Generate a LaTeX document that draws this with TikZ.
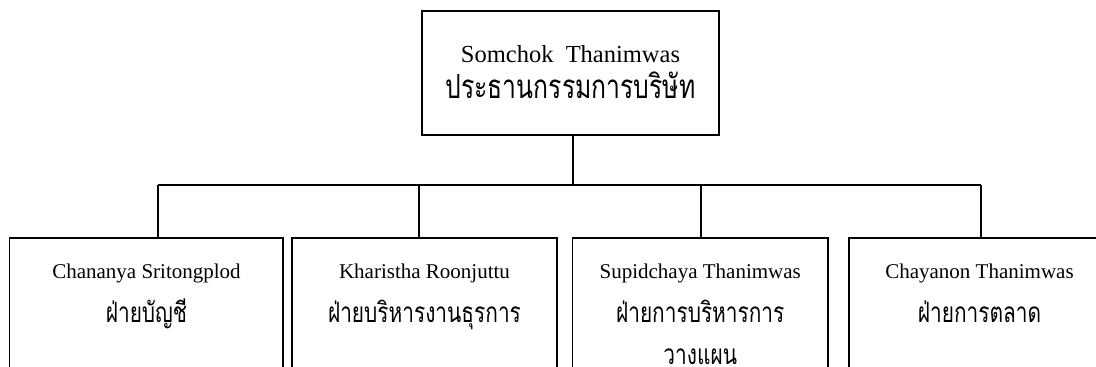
\documentclass[tikz,border=0pt]{standalone}
\usepackage{fontspec}
\setmainfont{Liberation Serif}
\newfontfamily\thaifont[Script=Thai]{Loma}
\newcommand\tallthai[1]{\scalebox{0.97}[1.3]{#1}}
\tikzset{
  box/.style={draw, line width=1.4pt, rectangle, inner sep=0pt},
  link/.style={line width=1.4pt},
  entop/.style={inner sep=0pt, anchor=base, font=\fontsize{24.5}{28}\selectfont},
  thtop/.style={inner sep=0pt, anchor=base, font=\thaifont\fontsize{25.5}{28}\selectfont},
  en/.style={inner sep=0pt, anchor=base, font=\fontsize{21}{24}\selectfont},
  th/.style={inner sep=0pt, anchor=base, font=\thaifont\fontsize{21.5}{24}\selectfont},
}
\begin{document}
\begin{tikzpicture}[x=1pt,y=-1pt]
\useasboundingbox (0,0) rectangle (1096,367);
\clip (0,0) rectangle (1096,367);
% boxes
\node[box, minimum width=297pt, minimum height=124pt] (top) at (570.5,73) {};
\node[box, minimum width=273.5pt, minimum height=200pt] (b1) at (146.25,338) {};
\node[box, minimum width=265pt, minimum height=200pt] (b2) at (424.5,338) {};
\node[box, minimum width=255.5pt, minimum height=200pt] (b3) at (700.25,338) {};
\node[box, minimum width=261pt, minimum height=200pt] (b4) at (979.5,338) {};
% texts
\node[entop] (t1) at (570.5,62) {Somchok\ \ Thanimwas};
\node[thtop] (t2) at (570.5,98) {\tallthai{ประธานกรรมการบริษัท}};
\node[en] (c1) at (146.5,278) {Chananya Sritongplod};
\node[th] (d1) at (146.5,322) {\tallthai{ฝ่ายบัญชี}};
\node[en] (c2) at (424.5,278) {Kharistha Roonjuttu};
\node[th] (d2) at (424.5,322) {\tallthai{ฝ่ายบริหารงานธุรการ}};
\node[en] (c3) at (700.25,278) {Supidchaya Thanimwas};
\node[th] (d3) at (700.25,322) {\tallthai{ฝ่ายการบริหารการ}};
\node[th] (e3) at (700.25,364) {\tallthai{วางแผน}};
\node[en] (c4) at (979.5,278) {Chayanon Thanimwas};
\node[th] (d4) at (979.5,322) {\tallthai{ฝ่ายการตลาด}};
% connectors
\coordinate (hub) at (573,185);
\coordinate (j1) at (158,185);
\coordinate (j2) at (419,185);
\coordinate (j3) at (701,185);
\coordinate (j4) at (981,185);
\draw[link] (top.south -| hub) -- (hub);
\draw[link] (j1) -- (j4);
\draw[link] (j1) -- (b1.north -| j1);
\draw[link] (j2) -- (b2.north -| j2);
\draw[link] (j3) -- (b3.north -| j3);
\draw[link] (j4) -- (b4.north -| j4);
\end{tikzpicture}
\end{document}
